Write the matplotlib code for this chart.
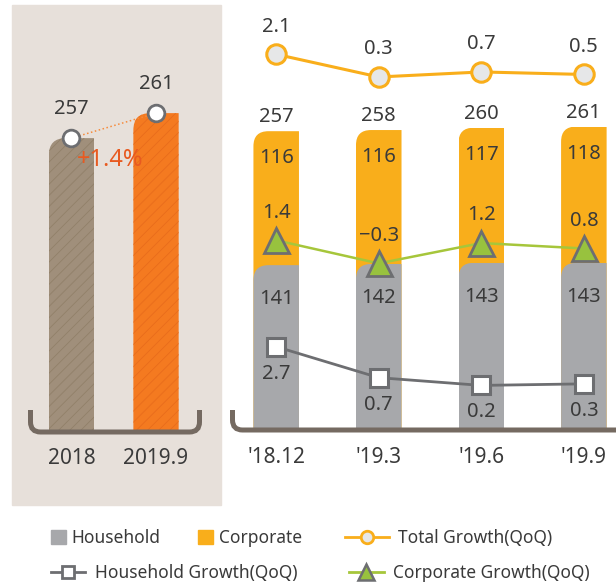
import numpy as np
import matplotlib.pyplot as plt
from matplotlib.path import Path
from matplotlib.patches import PathPatch, Rectangle, Patch
from matplotlib.lines import Line2D
from matplotlib.transforms import Affine2D

plt.rcParams['font.family'] = ['Noto Sans', 'DejaVu Sans']
plt.rcParams['hatch.linewidth'] = 0.6

# ---- datos ----
anos = ['2018', '2019.9']
total_anual = [257, 261]
crec_anual = '+1.4%'

trimestres = ["'18.12", "'19.3", "'19.6", "'19.9"]
hogares = [141, 142, 143, 143]
empresas = [116, 116, 117, 118]
crec_total = [2.1, 0.3, 0.7, 0.5]
crec_hogares = [2.7, 0.7, 0.2, 0.3]
crec_empresas = [1.4, -0.3, 1.2, 0.8]

W, H = 616, 584
TXT = '#3a3a3a'
GRIS = '#a7a8ab'
NARANJA = '#f9ae1b'
MARRON = '#756a61'
BORDE = '#6d6e71'


def redondear_esquina(ax, barras, r_px):
    """Recorta cada barra con la esquina superior izquierda redondeada."""
    sx, sy = ax.transData.transform((1, 1)) - ax.transData.transform((0, 0))
    rx, ry = r_px / sx, r_px / sy
    for b in barras:
        x0, y0 = b.get_x(), b.get_y()
        x1, y1 = x0 + b.get_width(), y0 + b.get_height()
        verts = [(x0, y0), (x1, y0), (x1, y1), (x0 + rx, y1),
                 (x0, y1), (x0, y1 - ry), (x0, y0)]
        codes = [Path.MOVETO, Path.LINETO, Path.LINETO, Path.LINETO,
                 Path.CURVE3, Path.CURVE3, Path.CLOSEPOLY]
        b.set_clip_path(PathPatch(Path(verts, codes), transform=ax.transData))


def corchete(fig, puntos, codigos):
    # puntos en pixeles, origen arriba a la izquierda
    trans = Affine2D().scale(1, -1).translate(0, H)
    p = PathPatch(Path(puntos, codigos), transform=trans, fill=False,
                  edgecolor=MARRON, linewidth=3.6, capstyle='butt', zorder=5)
    fig.add_artist(p)


fig = plt.figure(figsize=(W / 100, H / 100), dpi=100)

# fondo del panel izquierdo
fig.add_artist(Rectangle((12 / W, 1 - 505 / H), 209 / W, 500 / H,
                         transform=fig.transFigure, color='#e7e0da', zorder=0))

# ---- panel izquierdo ----
ax1 = fig.add_axes([12 / W, (H - 430) / H, 209 / W, 425 / H])
ax1.patch.set_visible(False)
x1 = np.arange(len(anos))
ax1.set_xlim(-0.704, 1.769)
ax1.set_ylim(210.3, 278.3)
b1 = ax1.bar(x1, total_anual, width=0.536, color=['#a08f7b', '#f47a20'],
             edgecolor=['#918069', '#e86c1c'], linewidth=0, hatch='///', zorder=2)
redondear_esquina(ax1, b1, 17)
ax1.plot(x1, total_anual, ls=':', color='#f68b3c', lw=1.1, marker='o', ms=12,
         mfc='white', mec=BORDE, mew=2, zorder=4)
for xi, v in zip(x1, total_anual):
    ax1.annotate(str(v), (xi, v), xytext=(0, 21), textcoords='offset points',
                 ha='center', va='center', fontsize=14.5, color=TXT)
ax1.text(0.469, 0.635, crec_anual, transform=ax1.transAxes, ha='center',
         va='center', fontsize=17, color='#e85a20', zorder=5)
ax1.set_xticks(x1, anos)
ax1.tick_params(axis='x', length=0, pad=13, labelsize=15, labelcolor=TXT)
ax1.set_yticks([])
for s in ax1.spines.values():
    s.set_visible(False)

# ---- panel derecho ----
ax2 = fig.add_axes([230 / W, (H - 428) / H, 386 / W, 428 / H])
ax2.patch.set_visible(False)
x2 = np.arange(len(trimestres))
total = [h + e for h, e in zip(hogares, empresas)]
ax2.set_xlim(-0.4505, 3.3135)
ax2.set_ylim(0, 370.6)
b_tot = ax2.bar(x2, total, width=0.444, color=NARANJA, zorder=2)
b_hog = ax2.bar(x2, hogares, width=0.444, color=GRIS, zorder=3)
redondear_esquina(ax2, b_tot, 15)
redondear_esquina(ax2, b_hog, 15)
for xi, t, e, h in zip(x2, total, empresas, hogares):
    ax2.annotate(str(t), (xi, t), xytext=(0, 10), textcoords='offset points',
                 ha='center', va='center', fontsize=14.5, color=TXT)
    ax2.annotate(str(e), (xi, t), xytext=(0, -19.5), textcoords='offset points',
                 ha='center', va='center', fontsize=14.5, color=TXT, zorder=4)
    ax2.annotate(str(h), (xi, h), xytext=(0, -24.5), textcoords='offset points',
                 ha='center', va='center', fontsize=14.5, color=TXT, zorder=4)
ax2.set_xticks(x2, trimestres)
ax2.tick_params(axis='x', length=0, pad=13.5, labelsize=15, labelcolor=TXT)
ax2.set_yticks([])
for s in ax2.spines.values():
    s.set_visible(False)

# crecimiento total
ax_t = ax2.twinx()
ax_t.set_ylim(-27.56, 6.41)
ax_t.set_axis_off()
ax_t.plot(x2, crec_total, color=NARANJA, lw=2.2, marker='o', ms=14,
          mfc='#e6e7e8', mec=NARANJA, mew=2.2)
for xi, v in zip(x2, crec_total):
    ax_t.annotate(f'{v}', (xi, v), xytext=(0, 20), textcoords='offset points',
                  ha='center', va='center', fontsize=14.5, color=TXT)

# crecimiento empresas
ax_e = ax2.twinx()
ax_e.set_ylim(-12.43, 19.11)
ax_e.set_axis_off()
ax_e.plot(x2, crec_empresas, color='#a6c63b', lw=1.8, marker='^', ms=18,
          mfc='#98c23e', mec=BORDE, mew=2)
for xi, v in zip(x2, crec_empresas):
    ax_e.annotate(f'{v}'.replace('-', '\u2212'), (xi, v), xytext=(0, 20),
                  textcoords='offset points', ha='center', va='center',
                  fontsize=14.5, color=TXT)

# crecimiento hogares
ax_h = ax2.twinx()
ax_h.set_ylim(-2.552, 25.1)
ax_h.set_axis_off()
ax_h.plot(x2, crec_hogares, color=BORDE, lw=2, marker='s', ms=13.5,
          mfc='white', mec=BORDE, mew=2.2)
for xi, v in zip(x2, crec_hogares):
    ax_h.annotate(f'{v}', (xi, v), xytext=(0, -19.5), textcoords='offset points',
                  ha='center', va='center', fontsize=14.5, color=TXT)

# corchetes de la base
C = [Path.MOVETO, Path.LINETO, Path.CURVE3, Path.CURVE3, Path.LINETO,
     Path.CURVE3, Path.CURVE3, Path.LINETO]
corchete(fig, [(30.5, 410), (30.5, 422), (30.5, 432), (40.5, 432), (189.5, 432),
               (199.5, 432), (199.5, 422), (199.5, 410)], C)
corchete(fig, [(232.5, 410), (232.5, 420), (232.5, 430), (242.5, 430), (620, 430)],
         C[:5])

# ---- leyenda ----
def leyenda(handle, texto, x_px, y_px, hl, hh, pad):
    fig.legend([handle], [texto], loc='center left',
               bbox_to_anchor=(x_px / W, 1 - y_px / H), frameon=False,
               borderpad=0, borderaxespad=0, handlelength=hl, handleheight=hh,
               handletextpad=pad, fontsize=12.5, labelcolor=TXT)

leyenda(Patch(color=GRIS), 'Household', 50.7, 538, 0.864, 0.864, 0.35)
leyenda(Patch(color=NARANJA), 'Corporate', 198, 538, 0.864, 0.864, 0.35)
leyenda(Line2D([], [], color=NARANJA, lw=2, marker='o', ms=9, mfc='#e6e7e8',
               mec=NARANJA, mew=2), 'Total Growth(QoQ)', 345, 538, 2.53, 0.7, 0.52)
leyenda(Line2D([], [], color=BORDE, lw=2, marker='s', ms=9, mfc='white',
               mec=BORDE, mew=2), 'Household Growth(QoQ)', 50.7, 573, 1.98, 0.7, 0.58)
leyenda(Line2D([], [], color='#a6c63b', lw=2, marker='^', ms=11, mfc='#98c23e',
               mec=BORDE, mew=1.8), 'Corporate Growth(QoQ)', 349, 573, 2.0, 0.7, 0.52)

fig.savefig('out.png', dpi=100)
